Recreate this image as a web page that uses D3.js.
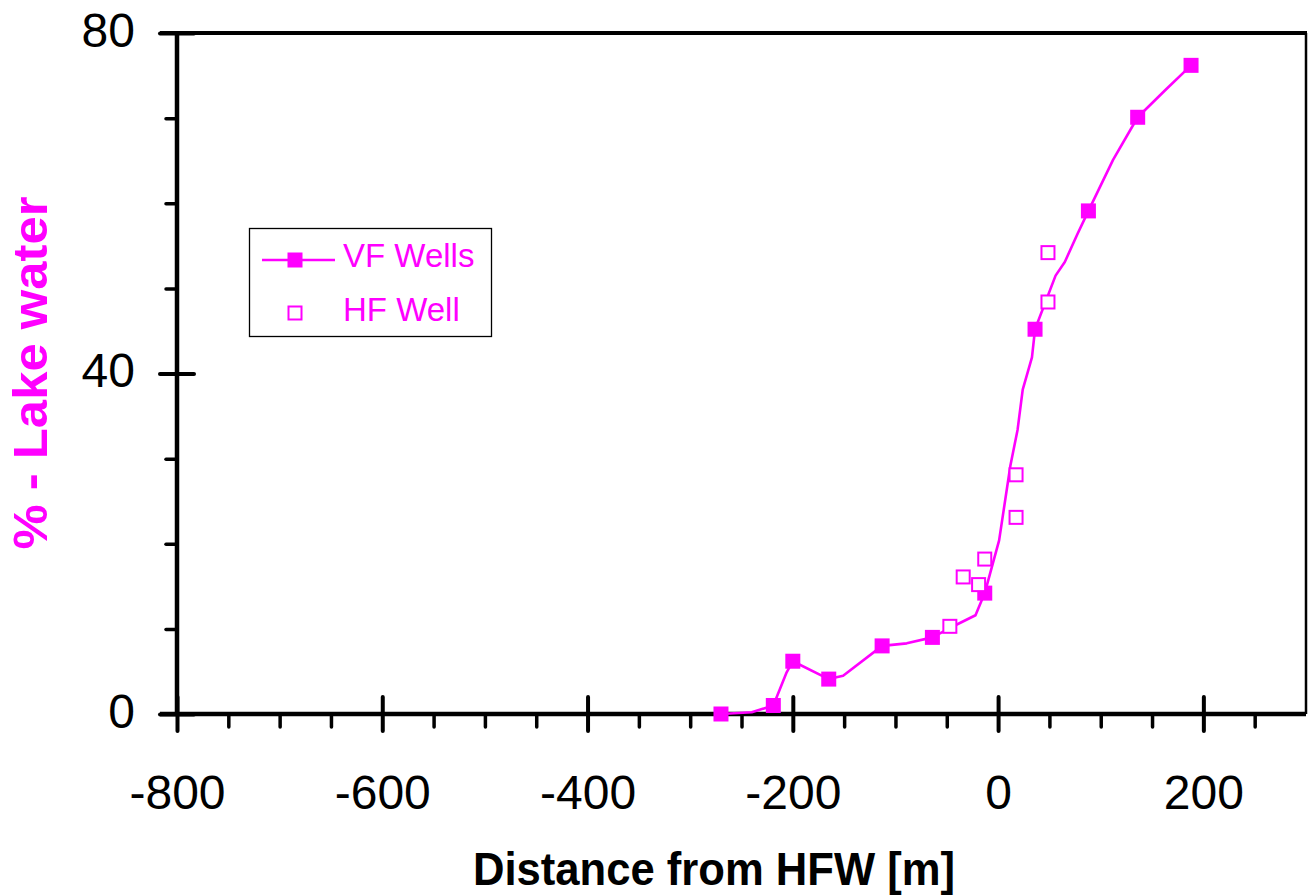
<!DOCTYPE html>
<html>
<head>
<meta charset="utf-8">
<script src="https://cdn.jsdelivr.net/npm/d3@7"></script>
<style>
  html, body { margin: 0; padding: 0; background: #fff; }
  svg { display: block; font-family: "Liberation Sans", Arial, sans-serif; }
</style>
</head>
<body>
<svg id="chart" width="1308" height="895"></svg>
<script>
// ---- data ----
const vfWellsX = [-270, -219, -200, -165, -113, -64, -13, 36, 88, 136, 188];
const vfWellsY = [0, 1.0, 6.2, 4.1, 8.0, 9.0, 14.2, 45.2, 59.1, 70.1, 76.2];

const vfCurveX = [-270, -240, -219, -206, -200, -165, -151, -113, -89, -64, -47, -22, -13, 1, 12, 19, 24, 33, 36, 56, 65, 77, 88, 112, 136, 163, 188];
const vfCurveY = [0, 0.2, 1.0, 4.9, 6.2, 4.1, 4.5, 8.0, 8.3, 9.0, 10.1, 11.6, 14.2, 20.4, 29.2, 33.4, 38.1, 41.9, 45.2, 51.5, 53.1, 56.3, 59.1, 65.1, 70.1, 73.3, 76.2];

const hfWellX = [-47, -34, -19, -13, 17.5, 17.5, 48.6, 48.6];
const hfWellY = [10.3, 16.1, 15.2, 18.2, 23.1, 28.1, 48.4, 54.2];

const xMajorTicks = [-800, -600, -400, -200, 0, 200];
const xMinorTicks = [-750, -700, -650, -550, -500, -450, -350, -300, -250, -150, -100, -50, 50, 100, 150, 250];
const yMajorTicks = [0, 40, 80];
const yMinorTicks = [10, 20, 30, 50, 60, 70];

const seriesNames = ["VF Wells", "HF Well"];
const xTitle = "Distance from HFW [m]";
const yTitle = "% - Lake water";

// ---- layout ----
const MAG = "#FF00FF";
const svg = d3.select("#chart");
const pLeft = 177, pRight = 1306, pTop = 33, pBottom = 714;

const x = d3.scaleLinear().domain([-800, 300]).range([pLeft, pRight]);
const y = d3.scaleLinear().domain([0, 80]).range([pBottom, pTop]);

// frame: top and right borders
svg.append("line").attr("x1", 160).attr("x2", pRight + 1).attr("y1", pTop).attr("y2", pTop)
  .attr("stroke", "#000").attr("stroke-width", 4);
svg.append("line").attr("x1", pRight).attr("x2", pRight).attr("y1", pTop).attr("y2", pBottom)
  .attr("stroke", "#000").attr("stroke-width", 2.5);

// x axis minor ticks
const gxMinor = svg.append("g").attr("transform", `translate(0,${pBottom})`)
  .call(d3.axisBottom(x).tickValues(xMinorTicks).tickSize(13).tickFormat(""));
gxMinor.select(".domain").remove();
gxMinor.selectAll(".tick line").attr("stroke-width", 3.5).attr("stroke-linecap", "round");

// x axis major
const gx = svg.append("g").attr("transform", `translate(0,${pBottom})`)
  .call(d3.axisBottom(x).tickValues(xMajorTicks).tickSize(17).tickPadding(44).tickFormat(d3.format("d")));
gx.select(".domain").attr("d", `M${pLeft - 17},0H${pRight}`).attr("stroke-width", 4.5);
gx.selectAll(".tick line").attr("y1", -17).attr("y2", 17).attr("stroke-width", 4).attr("stroke-linecap", "round");
gx.selectAll(".tick text").attr("font-size", 48).attr("fill", "#000").attr("font-family", "Liberation Sans, Arial, sans-serif")
  .text(d => d < 0 ? "-" + Math.abs(d) : d);

// y axis minor
const gyMinor = svg.append("g").attr("transform", `translate(${pLeft},0)`)
  .call(d3.axisLeft(y).tickValues(yMinorTicks).tickSize(11).tickFormat(""));
gyMinor.select(".domain").remove();
gyMinor.selectAll(".tick line").attr("stroke-width", 3.5).attr("stroke-linecap", "round");

// y axis major
const gy = svg.append("g").attr("transform", `translate(${pLeft},0)`)
  .call(d3.axisLeft(y).tickValues(yMajorTicks).tickSize(17).tickPadding(25).tickFormat(d3.format("d")));
gy.select(".domain").attr("d", `M0,${pTop}V${pBottom}`).attr("stroke-width", 4.5);
gy.selectAll(".tick line").attr("x1", -17).attr("x2", 17).attr("stroke-width", 4).attr("stroke-linecap", "round");
gy.selectAll(".tick text").attr("font-size", 48).attr("fill", "#000").attr("font-family", "Liberation Sans, Arial, sans-serif")
  .attr("dy", "0.28em");

// ---- VF curve ----
const curvePts = vfCurveX.map((d, i) => [d, vfCurveY[i]]);
svg.append("path").datum(curvePts)
  .attr("d", d3.line().x(d => x(d[0])).y(d => y(d[1])))
  .attr("fill", "none").attr("stroke", MAG).attr("stroke-width", 2.6).attr("stroke-linejoin", "round");

// VF markers
const vfPts = vfWellsX.map((d, i) => [d, vfWellsY[i]]);
const fs = 15;
svg.append("g").selectAll("rect").data(vfPts).join("rect")
  .attr("x", d => x(d[0]) - fs / 2).attr("y", d => y(d[1]) - fs / 2)
  .attr("width", fs).attr("height", fs).attr("fill", MAG);

// HF markers
const hfPts = hfWellX.map((d, i) => [d, hfWellY[i]]);
const hs = 13;
svg.append("g").selectAll("rect").data(hfPts).join("rect")
  .attr("x", d => x(d[0]) - hs / 2).attr("y", d => y(d[1]) - hs / 2)
  .attr("width", hs).attr("height", hs).attr("fill", "#fff").attr("stroke", MAG).attr("stroke-width", 2);

// ---- legend ----
const lg = svg.append("g");
lg.append("rect").attr("x", 249.5).attr("y", 228.5).attr("width", 242).attr("height", 108)
  .attr("fill", "#fff").attr("stroke", "#000").attr("stroke-width", 1.3);
lg.append("line").attr("x1", 262).attr("x2", 335).attr("y1", 260).attr("y2", 260)
  .attr("stroke", MAG).attr("stroke-width", 2.6);
lg.append("rect").attr("x", 295 - 7.5).attr("y", 260 - 7.5).attr("width", 15).attr("height", 15).attr("fill", MAG);
lg.append("rect").attr("x", 295 - 6.5).attr("y", 313 - 6.5).attr("width", 13).attr("height", 13)
  .attr("fill", "#fff").attr("stroke", MAG).attr("stroke-width", 2);
lg.append("text").attr("x", 343).attr("y", 267).attr("font-size", 33).attr("fill", MAG).text(seriesNames[0]);
lg.append("text").attr("x", 343).attr("y", 321).attr("font-size", 33).attr("fill", MAG).text(seriesNames[1]);

// ---- titles ----
svg.append("text").attr("x", 714).attr("y", 885).attr("text-anchor", "middle")
  .attr("font-size", 47).attr("font-weight", "bold").attr("fill", "#000")
  .attr("textLength", 482).attr("lengthAdjust", "spacingAndGlyphs").text(xTitle);
svg.append("text").attr("transform", "translate(47,373) rotate(-90)").attr("text-anchor", "middle")
  .attr("font-size", 49).attr("font-weight", "bold").attr("fill", MAG)
  .attr("textLength", 353).attr("lengthAdjust", "spacingAndGlyphs").text(yTitle);
</script>
</body>
</html>
